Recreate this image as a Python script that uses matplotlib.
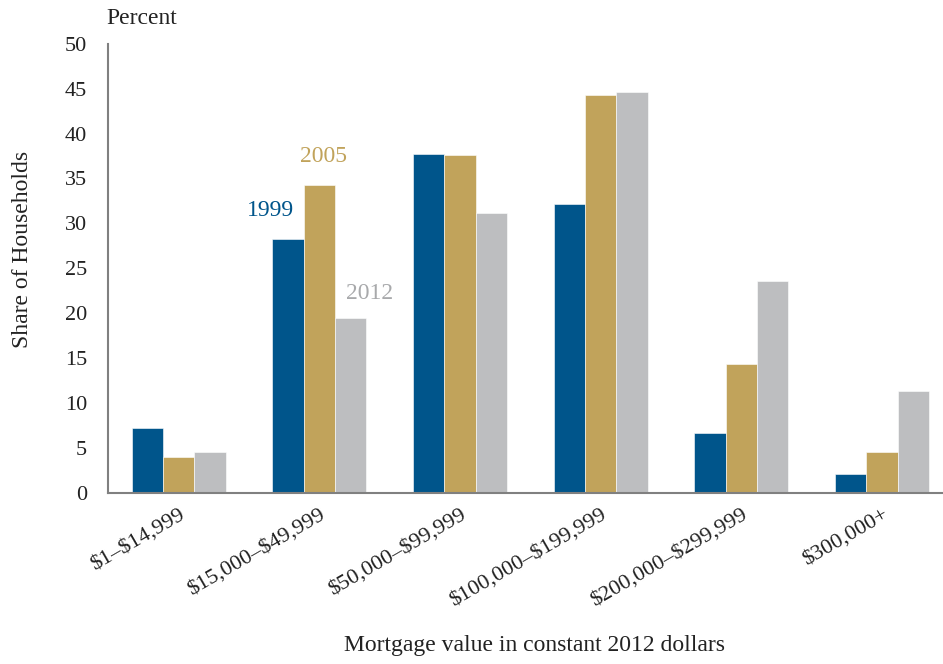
import numpy as np
import matplotlib
matplotlib.use("Agg")
import matplotlib.pyplot as plt

categories = ["$1–$14,999", "$15,000–$49,999", "$50,000–$99,999",
              "$100,000–$199,999", "$200,000–$299,999", "$300,000+"]
years = ["1999", "2005", "2012"]
share_1999 = [7.2, 28.3, 37.7, 32.2, 6.7, 2.1]
share_2005 = [4.0, 34.3, 37.6, 44.3, 14.3, 4.5]
share_2012 = [4.5, 19.5, 31.2, 44.6, 23.6, 11.3]

colors = ["#00558B", "#C1A35B", "#BDBEC0"]

plt.rcParams["font.family"] = ["Liberation Serif", "DejaVu Serif"]
plt.rcParams["text.parse_math"] = False

fig = plt.figure(figsize=(9.43, 6.64), dpi=100)
ax = fig.add_axes([0.1145, 0.258, 0.8855, 0.676])

x = np.arange(len(categories))
w = 0.223
for i, (vals, c) in enumerate(zip([share_1999, share_2005, share_2012], colors)):
    ax.bar(x + (i - 1) * w, vals, w, color=c, edgecolor="white", linewidth=0.4)

ax.set_xlim(-0.503, 5.435)
ax.set_ylim(0, 50)
ax.set_yticks(range(0, 51, 5))
ax.tick_params(axis="y", length=0, pad=15, labelsize=16, labelcolor="#222222")
ax.tick_params(axis="x", length=0, pad=9, labelsize=16, labelcolor="#222222")
ax.set_xticks(x)
ax.set_xticklabels(categories, rotation=30, ha="right", rotation_mode="anchor")

for s in ["top", "right"]:
    ax.spines[s].set_visible(False)
for s in ["left", "bottom"]:
    ax.spines[s].set_color("#808080")
    ax.spines[s].set_linewidth(1.5)

ax.text(0.65, 31.4, years[0], color=colors[0], fontsize=17, ha="center", va="center")
ax.text(1.03, 37.5, years[1], color=colors[1], fontsize=17, ha="center", va="center")
ax.text(1.36, 22.2, years[2], color="#A8A9AB", fontsize=17, ha="center", va="center")

fig.text(0.113, 0.972, "Percent", fontsize=17, ha="left", va="center", color="#222222")
fig.text(0.024, 0.625, "Share of Households", fontsize=17, rotation=90,
         ha="center", va="center", color="#222222")
fig.text(0.567, 0.028, "Mortgage value in constant 2012 dollars", fontsize=17,
         ha="center", va="center", color="#222222")

fig.savefig("out.png", dpi=100)
